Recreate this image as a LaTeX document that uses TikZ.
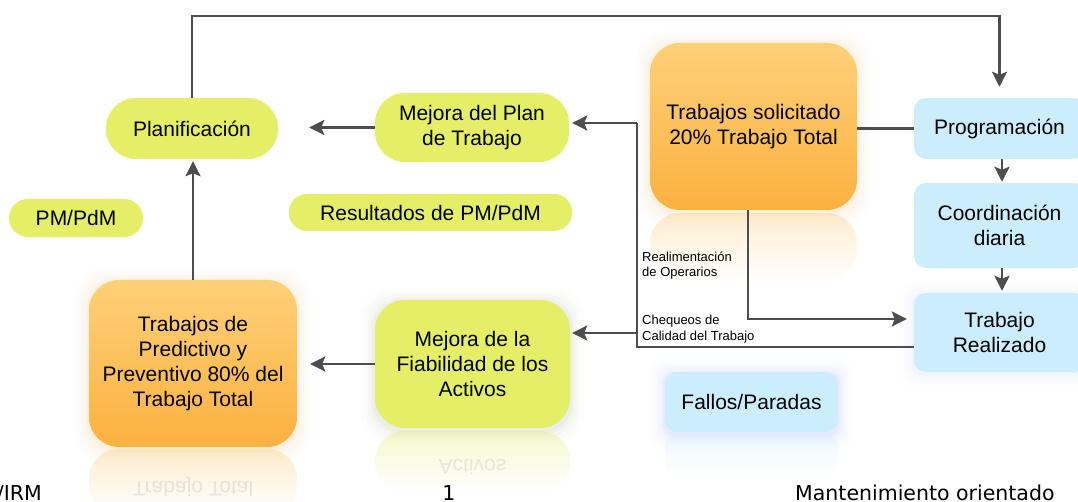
\documentclass[tikz,border=0pt]{standalone}
\usepackage{fontspec}
\setmainfont{Liberation Sans}
\newfontfamily\footfont{DejaVu Sans}
\usetikzlibrary{arrows.meta,fadings}
\definecolor{gfill}{RGB}{228,238,102}
\definecolor{otop}{RGB}{253,208,120}
\definecolor{obot}{RGB}{251,177,64}
\definecolor{bfill}{RGB}{203,237,252}
\definecolor{lcol}{RGB}{77,77,77}
\tikzfading[name=reflfade, top color=transparent!68, bottom color=transparent!100]
\pgfdeclarelayer{bgzero}
\pgfdeclarelayer{bgone}
\pgfsetlayers{bgzero,bgone,main}
\newcommand\mainsz{\fontsize{21}{25}\selectfont}
\newcommand\smallsz{\fontsize{13}{15.5}\selectfont}
\newcommand\footsz{\footfont\fontsize{20.5}{24}\selectfont}
\newcommand\myglow[4]{%
  \foreach \s/\o in {14/0.015,10/0.022,7/0.03,4/0.04,2/0.05}{%
    \fill[#2, opacity=#4*\o, rounded corners=#3]
      ([shift={(-\s,-\s+2)}]#1.north west) rectangle ([shift={(\s,\s+2)}]#1.south east);
  }%
}
\tikzset{
  boxbase/.style={inner sep=0pt, align=center, font=\mainsz, text=black},
  gbox/.style={boxbase, fill=gfill},
  obox/.style={boxbase, top color=otop, bottom color=obot, rounded corners=30pt},
  bbox/.style={boxbase, fill=bfill, rounded corners=12pt, minimum width=171pt},
  conn/.style={draw=lcol, line width=2.7pt},
  arr/.style={conn, -{Stealth[length=15pt,width=15pt,inset=3pt]}},
  lbl/.style={inner sep=0pt, align=left, font=\smallsz, text=black},
  mirror/.style={font=\mainsz, yscale=-1, text=black!25, text opacity=0.35, inner sep=0pt},
  foot/.style={inner sep=0pt, font=\footsz, text=black}
}
\begin{document}
\begin{tikzpicture}[x=1pt,y=-1pt]
\useasboundingbox (0,0) rectangle (1078,502);
\clip (0,0) rectangle (1078,502);
\begin{pgfonlayer}{bgzero}
  \fill[white] (0,0) rectangle (1078,502);
\end{pgfonlayer}

% nodes
\node[gbox, minimum width=172pt, minimum height=61pt, rounded corners=30pt] (plan) at (192,128.5) {Planificación};
\node[gbox, minimum width=134pt, minimum height=38pt, rounded corners=19pt] (pm) at (76,218) {PM/PdM};
\node[gbox, minimum width=194pt, minimum height=69pt, rounded corners=30pt] (mplan) at (472,127.5) {Mejora del Plan\\de Trabajo};
\node[gbox, minimum width=283pt, minimum height=37pt, rounded corners=18pt] (res) at (430.5,212.5) {Resultados de PM/PdM};
\node[obox, minimum width=207pt, minimum height=167pt] (sol) at (753.5,126.5) {Trabajos solicitado\\20\% Trabajo Total};
\node[bbox, minimum height=61pt] (prog) at (999.5,128.5) {Programación};
\node[bbox, minimum height=85pt] (coord) at (999.5,225.5) {Coordinación\\diaria};
\node[bbox, minimum height=79pt] (real) at (999.5,332.5) {Trabajo\\Realizado};
\node[bbox, minimum width=173pt, minimum height=60pt] (fallos) at (751.5,402) {Fallos/Paradas};
\node[gbox, minimum width=195pt, minimum height=128pt, rounded corners=30pt] (fiab) at (472.5,364) {Mejora de la\\Fiabilidad de los\\Activos};
\node[obox, minimum width=208pt, minimum height=167pt] (pred) at (193,363.5) {Trabajos de\\Predictivo y\\Preventivo 80\% del\\Trabajo Total};

% glows and reflections
\begin{pgfonlayer}{bgone}
  \myglow{sol}{obot}{30pt}{1}
  \myglow{pred}{obot}{30pt}{1}
  \myglow{fiab}{black!50!gfill}{30pt}{0.8}
  \myglow{fallos}{bfill!60!blue}{12pt}{1}
  \myglow{real}{bfill!70!blue}{12pt}{0.6}
  \fill[otop!70!obot, path fading=reflfade, rounded corners=30pt] (650,213) rectangle (857,280);
  \fill[otop!70!obot, path fading=reflfade, rounded corners=30pt] (89,449) rectangle (297,515);
  \fill[gfill, path fading=reflfade, rounded corners=30pt] (375,431) rectangle (570,492);
  \fill[bfill, path fading=reflfade, rounded corners=12pt] (665,435) rectangle (838,475);
\end{pgfonlayer}
\node[mirror] (rpred) at (193,487) {Trabajo Total};
\node[mirror] (rfiab) at (472.5,467) {Activos};

% connectors
\coordinate (top) at (0,16);
\coordinate (fb) at (637,123);
\coordinate (fbb) at (637,333);
\draw[arr, shorten >=11pt] (plan.north) |- (prog.north |- top) -- (prog.north);
\draw[arr, shorten >=31pt] (mplan.west) -- (mplan.west -| plan.east);
\draw[arr, shorten >=2pt] (pred.north) -- (pred.north |- plan.south);
\draw[arr, shorten >=13pt] (fiab.west) -- (fiab.west -| pred.east);
\draw[conn] (prog.west) -- (prog.west -| sol.east);
\draw[arr, shorten >=1pt] ([xshift=2.5pt]prog.south) -- ([xshift=2.5pt]coord.north);
\draw[arr, shorten >=2pt] ([xshift=2.5pt]coord.south) -- ([xshift=2.5pt]real.north);
\draw[arr, shorten >=7pt] ([xshift=-5.5pt]sol.south) |- ([yshift=13.5pt]real.west);
\draw[conn] ([yshift=-14.5pt]real.west) -| (fb);
\draw[arr, shorten >=3pt] (fb) -- (fb -| mplan.east);
\draw[arr, shorten >=2pt] (fbb) -- (fbb -| fiab.east);

% labels
\node[lbl, anchor=base west] (lab1) at (642,277) {Realimentación\\de Operarios};
\node[lbl, anchor=base west] (lab2) at (642,340) {Chequeos de\\Calidad del Trabajo};

% footer
\node[foot, anchor=base east] (f1) at (42,500) {/IRM};
\node[foot, anchor=base] (f2) at (449,500) {1};
\node[foot, anchor=base west] (f3) at (795,500) {Mantenimiento orientado};
\end{tikzpicture}
\end{document}
